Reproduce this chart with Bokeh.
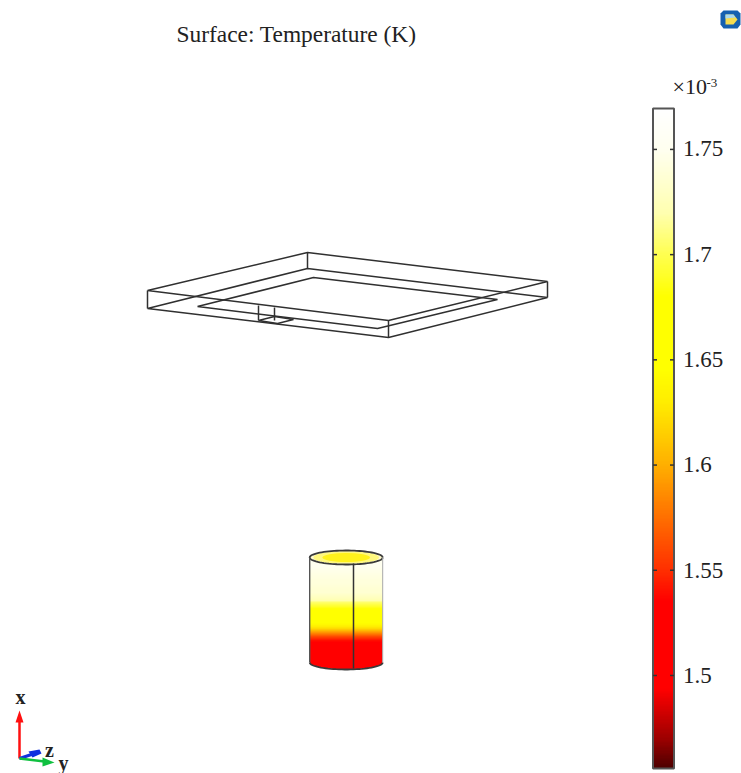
from bokeh.plotting import figure
from bokeh.models import ColorBar, LinearColorMapper, FixedTicker, Range1d
from bokeh.core.properties import value
from bokeh.embed import file_html
from bokeh.resources import INLINE
import numpy as np

# ---- data (1e-3 K)
title = "Surface: Temperature (K)"
tick_values = [1.5, 1.55, 1.6, 1.65, 1.7, 1.75]
temp_min = 1.4558
temp_max = 1.7692

# colour scale anchors: temperature -> colour
scale_t = [1.4558, 1.4700, 1.4930, 1.5350, 1.5500, 1.6000, 1.6300, 1.6450, 1.6800, 1.7000, 1.7200, 1.7500, 1.7692]
scale_r = [80, 160, 255, 255, 255, 255, 255, 255, 255, 255, 255, 255, 255]
scale_g = [0, 0, 0, 0, 48, 176, 238, 255, 255, 255, 255, 255, 255]
scale_b = [0, 0, 0, 0, 0, 0, 0, 0, 0, 80, 176, 240, 255]

# cylinder wall temperatures, one every 2 px from rim (top) to base
wall_t = [1.75, 1.75, 1.75, 1.75, 1.75, 1.748, 1.746, 1.745, 1.744, 1.743, 1.742, 1.741, 1.74, 1.739,
          1.738, 1.737, 1.736, 1.735, 1.732, 1.728, 1.724, 1.72, 1.705, 1.698, 1.69, 1.682, 1.675, 1.67,
          1.665, 1.66, 1.655, 1.65, 1.645, 1.64, 1.63, 1.62, 1.605, 1.59, 1.575, 1.56, 1.55, 1.54,
          1.532, 1.528, 1.525, 1.522, 1.52, 1.518, 1.516, 1.515, 1.515, 1.512, 1.51, 1.505, 1.50, 1.50]
wall_y0, wall_y1 = 557, 669
wall_x0, wall_x1 = 309.5, 382

# wireframe polylines in the view plane of the 3-D scene
frame_x = [
    [147, 307, 547, 388, 147],
    [147, 307, 547, 388, 147],
    [147, 147], [307, 307], [547, 547], [388, 388],
    [197, 313, 497, 377, 197],
    [258, 258], [274, 274],
    [258, 274, 293, 277, 258],
]
frame_y = [
    [290, 252, 281, 320, 290],
    [308, 268, 297, 337, 308],
    [290, 308], [252, 268], [281, 297], [320, 337],
    [306, 277, 299, 328, 306],
    [305, 320], [307, 320],
    [320, 316, 319, 323, 320],
]
cyl_cx = 345.7
cyl_rx = 36.5
cyl_ry = 7
cyl_top = 557
cyl_base = 662

W, H = 741, 773
p = figure(width=W, height=H, x_range=Range1d(0, 741), y_range=Range1d(773, 0),
           output_backend="svg", toolbar_location=None, min_border=0,
           outline_line_color=None, background_fill_color="white")
p.xaxis.visible = False
p.yaxis.visible = False
p.xgrid.visible = False
p.ygrid.visible = False

# colour map
grid = np.linspace(temp_min, temp_max, 256)
palette = ["#%02x%02x%02x" % (int(r), int(g), int(b)) for r, g, b in zip(
    np.interp(grid, scale_t, scale_r), np.interp(grid, scale_t, scale_g), np.interp(grid, scale_t, scale_b))]
mapper = LinearColorMapper(palette=palette, low=temp_min, high=temp_max)

# cylinder wall
img = np.array(wall_t, dtype=float).reshape(-1, 1)
p.image(image=[img], x=wall_x0, y=wall_y0, dw=wall_x1 - wall_x0, dh=wall_y1 - wall_y0, color_mapper=mapper)
th = np.linspace(0, np.pi, 40)
# white mask under the base curve
p.patch(np.r_[cyl_cx + cyl_rx * np.cos(th), wall_x0 - 2, wall_x1 + 2],
        np.r_[cyl_base + cyl_ry * np.sin(th), 672, 672], fill_color="white", line_color=None)
th2 = np.linspace(0, 2 * np.pi, 80)
p.patch(cyl_cx + cyl_rx * np.cos(th2), cyl_top + cyl_ry * np.sin(th2), fill_color="#fffbd0", line_color=None)
p.ellipse(x=[cyl_cx], y=[cyl_top], width=[2 * cyl_rx * 0.9], height=[2 * cyl_ry * 0.9], fill_color="#fff880", line_color=None)
p.ellipse(x=[cyl_cx], y=[cyl_top], width=[2 * cyl_rx * 0.65], height=[2 * cyl_ry * 0.65], fill_color="#fff21c", line_color=None)
p.line(cyl_cx + cyl_rx * np.cos(th2), cyl_top + cyl_ry * np.sin(th2), line_color="#3a3a3a", line_width=1.8)
p.line(cyl_cx + cyl_rx * np.cos(th), cyl_base + cyl_ry * np.sin(th), line_color="#3a3a3a", line_width=1.8)
p.line([cyl_cx - cyl_rx] * 2, [cyl_top, cyl_base], line_color="#555555", line_width=1.4)
p.line([cyl_cx + cyl_rx] * 2, [cyl_top, cyl_base], line_color="#a8a8a8", line_width=1.0)
p.line([353, 353], [cyl_top + 6, cyl_base + 6], line_color="#333333", line_width=1.5)

# wireframe
p.multi_line(frame_x, frame_y, line_color="#303030", line_width=1.5)

# colour bar
cb = ColorBar(color_mapper=mapper, ticker=FixedTicker(ticks=tick_values),
              major_label_overrides={1.5: "1.5", 1.55: "1.55", 1.6: "1.6", 1.65: "1.65", 1.7: "1.7", 1.75: "1.75"},
              width=21, height=660, location=(652.5, 5), orientation="vertical",
              major_label_text_font="Liberation Serif", major_label_text_font_size="23px",
              major_label_text_color="#222222", label_standoff=9,
              major_tick_line_color=None, minor_tick_line_color=None,
              bar_line_color="#555555", bar_line_width=2,
              border_line_color=None, background_fill_color=None, padding=0, margin=0)
p.add_layout(cb, "center")

# ticks on both sides of the bar, above the colour bar
p.extra_y_ranges = {"temp": Range1d(temp_min - (773 - 768) * (0.05 / 105.2), temp_max + 108.5 * (0.05 / 105.2))}
p.segment(x0=[652.5] * 6, x1=[656.5] * 6, y0=tick_values, y1=tick_values, y_range_name="temp",
          line_color="#333333", line_width=1.5, level="overlay")
p.segment(x0=[669.5] * 6, x1=[673.5] * 6, y0=tick_values, y1=tick_values, y_range_name="temp",
          line_color="#333333", line_width=1.5, level="overlay")

# texts
serif = value("Liberation Serif")
p.text(x=[176], y=[33], text=[title], text_font=serif, text_font_size="23.4px", text_baseline="middle", text_color="#222222")
p.text(x=[672], y=[86], text=["×10"], text_font=serif, text_font_size="22px", text_baseline="middle", text_color="#222222")
p.text(x=[706], y=[82], text=["-3"], text_font=serif, text_font_size="13px", text_baseline="middle", text_color="#222222")

# axis triad
p.line([19, 19], [758, 720], line_color="#ff1010", line_width=2.5)
p.patch([15, 19, 23], [722, 710, 722], fill_color="#ff1010", line_color=None)
p.line([19, 34], [758, 753], line_color="#1030e0", line_width=3)
p.patch([28, 39, 41, 32], [751, 749, 753, 757], fill_color="#1030e0", line_color=None)
p.line([19, 44], [758, 761], line_color="#10c040", line_width=2.5)
p.patch([42, 54, 42], [757, 762, 766], fill_color="#10c040", line_color=None)
p.text(x=[20], y=[696], text=["x"], text_font=serif, text_font_size="20px", text_font_style="bold", text_align="center", text_baseline="middle", text_color="#222222")
p.text(x=[49], y=[749], text=["z"], text_font=serif, text_font_size="20px", text_font_style="bold", text_align="center", text_baseline="middle", text_color="#222222")
p.text(x=[63], y=[762], text=["y"], text_font=serif, text_font_size="20px", text_font_style="bold", text_align="center", text_baseline="middle", text_color="#222222")

# application logo
lx = [723, 737, 740, 740, 737, 723, 720, 720]
ly = [10, 10, 13, 24, 28, 28, 24, 13]
p.patch(lx, ly, fill_color="#1560b0", line_color=None)
p.patch([725, 733, 737, 733, 725], [14, 14, 19, 24, 24], fill_color="#f5dc50", line_color=None)
p.patch([725, 733, 735, 725], [14, 14, 17, 18], fill_color="#a8d8f0", line_color=None)

open("out.html", "w").write(file_html(p, INLINE))
